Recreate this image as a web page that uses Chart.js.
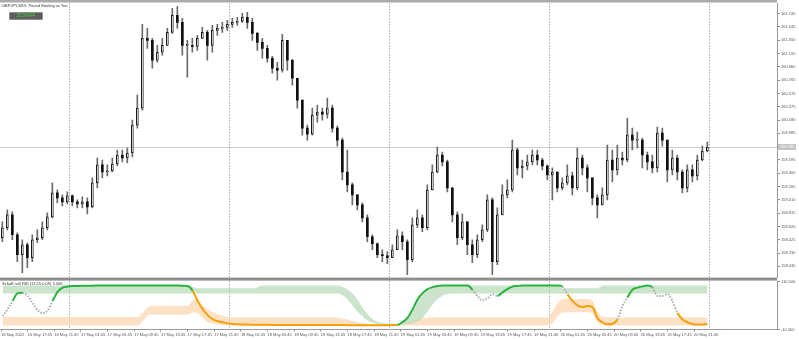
<!DOCTYPE html>
<html>
<head>
<meta charset="utf-8">
<script src="https://cdn.jsdelivr.net/npm/chart.js@4.4.1/dist/chart.umd.min.js"></script>
<style>
  html, body { margin: 0; padding: 0; background: #fff; }
  #wrap { position: relative; width: 799px; height: 339px; overflow: hidden; font-family: "Liberation Sans", Arial, sans-serif; }
  #main { position: absolute; left: 0; top: 0; }
  #sub { position: absolute; left: 0; top: 278px; }
  .title { position: absolute; left: 2px; top: 3.5px; font-size: 4px; line-height: 4px; color: #333; white-space: nowrap; }
  .btn { position: absolute; left: 9px; top: 12px; width: 34px; height: 7.5px; box-sizing: border-box; background: #5d5d5d; border: 1px solid #8c8c8c; border-radius: 1px; color: #3bd43b; font-size: 4.7px; line-height: 5.5px; text-align: center; }
  .subtitle { position: absolute; left: 2px; top: 281.5px; font-size: 4px; line-height: 4px; color: #333; white-space: nowrap; }
</style>
</head>
<body>
<div id="wrap">
  <canvas id="main" width="799" height="281"></canvas>
  <canvas id="sub" width="799" height="61"></canvas>
  <div class="title">GBPJPY,M15: Pound Sterling vs Yen</div>
  <div class="btn">SCHAFF</div>
  <div class="subtitle">Schaff rsi3 RSI (13,55,0.09) 3.406</div>
</div>
<script>
// --- data (45-min candles, x in M15 bar units) ---
const firstOpen = 158.454;
const closes = [158.601,158.791,158.498,158.206,158.352,158.162,158.425,158.454,158.601,158.761,
  159.112,159.039,158.981,159.068,158.981,158.952,158.981,158.908,159.259,159.522,
  159.419,159.434,159.536,159.668,159.624,159.697,160.106,160.355,161.378,161.349,
  161.057,161.174,161.276,161.466,161.715,161.612,161.276,161.276,161.261,161.378,
  161.466,161.276,161.495,161.525,161.539,161.583,161.612,161.627,161.685,161.612,
  161.452,161.320,161.232,161.086,160.940,160.911,161.349,161.057,160.794,160.472,
  160.063,159.975,160.253,160.297,160.267,160.355,160.063,159.887,159.419,159.229,
  159.083,158.937,158.747,158.469,158.367,158.206,158.191,158.162,158.279,158.484,
  158.396,158.133,158.644,158.747,158.601,159.156,159.419,159.668,159.566,159.185,
  158.791,158.454,158.688,158.352,158.206,158.425,158.571,159.010,158.104,158.791,
  159.083,159.156,159.741,159.478,159.507,159.566,159.668,159.595,159.507,159.375,
  159.419,159.185,159.259,159.361,159.185,159.624,159.478,159.332,159.039,158.937,
  159.083,159.595,159.449,159.624,159.595,159.960,159.887,159.887,159.668,159.566,
  159.478,159.990,159.887,159.449,159.624,159.419,159.185,159.449,159.361,159.595,
  159.726,159.785];
const highs = [158.688,158.864,158.835,158.528,158.425,158.381,158.498,158.571,158.688,158.820,
  159.259,159.156,159.083,159.127,159.083,159.010,159.054,159.039,159.332,159.624,
  159.595,159.522,159.624,159.741,159.741,159.770,160.180,160.545,161.583,161.525,
  161.378,161.276,161.378,161.525,161.817,161.846,161.671,161.349,161.378,161.422,
  161.539,161.495,161.568,161.583,161.612,161.642,161.671,161.685,161.744,161.759,
  161.671,161.466,161.378,161.276,161.115,161.028,161.437,161.349,161.070,160.794,
  160.472,160.106,160.355,160.399,160.355,160.501,160.399,160.092,159.916,159.741,
  159.259,159.083,158.966,158.791,158.498,158.381,158.279,158.250,158.352,158.571,
  158.542,158.425,158.747,158.864,158.791,159.229,159.522,159.785,159.712,159.595,
  159.185,158.835,158.805,158.688,158.425,158.498,158.644,159.083,159.039,158.893,
  159.229,159.302,159.887,159.770,159.595,159.668,159.741,159.741,159.624,159.522,
  159.478,159.419,159.332,159.522,159.419,159.770,159.668,159.522,159.332,159.083,
  159.185,159.814,159.741,159.814,159.712,160.209,160.063,160.004,159.916,159.712,
  159.668,160.077,160.063,159.887,159.741,159.668,159.449,159.522,159.522,159.668,
  159.799,159.858];
const lows = [158.396,158.571,158.425,158.104,157.943,158.016,158.104,158.381,158.425,158.571,
  158.747,158.966,158.922,158.952,158.922,158.893,158.893,158.805,158.893,159.185,
  159.332,159.361,159.419,159.507,159.566,159.551,159.639,160.063,160.326,161.232,
  160.940,161.028,161.130,161.276,161.452,161.525,161.130,160.808,161.174,161.203,
  161.378,161.057,161.174,161.422,161.466,161.495,161.539,161.568,161.612,161.525,
  161.349,161.203,161.086,161.028,160.867,160.764,160.881,160.911,160.691,160.355,
  159.960,159.887,159.960,160.150,160.180,160.209,160.004,159.799,159.302,159.127,
  158.937,158.864,158.688,158.396,158.279,158.162,158.104,158.074,158.162,158.279,
  158.279,157.913,158.104,158.601,158.542,158.571,159.156,159.405,159.507,159.127,
  158.688,158.352,158.425,158.206,158.089,158.162,158.396,158.542,157.913,158.060,
  158.791,159.039,159.127,159.375,159.332,159.449,159.522,159.522,159.449,159.302,
  159.010,159.127,159.156,159.229,159.083,159.156,159.375,159.127,158.937,158.747,
  158.937,159.010,159.273,159.375,159.522,159.566,159.741,159.770,159.478,159.449,
  159.405,159.419,159.799,159.273,159.375,159.302,159.112,159.127,159.273,159.302,
  159.580,159.712];

// Schaff trend cycle and its two zones
const stcVals = [23,41,61.5,81,82,74,56,38,31,38,
  61.5,84.6,95,97.4,98.7,99.2,99.5,99.6,99.8,99.9,
  100,100,99.9,100,100,100,99.9,100,100,100,
  100,99.9,100,100,100,100,99.8,98.8,87,61.5,
  41,25.6,15.4,10.3,7.7,5.1,3.3,2.5,2,1.8,
  1.6,1.4,1.3,1.2,1.1,1,1,0.9,0.9,0.8,
  0.8,0.8,0.7,0.7,0.7,0.6,0.6,0.6,0.6,0.5,
  0.5,0.5,0.5,0.5,0.5,0.5,0.5,0.5,0.6,1,
  8,18.7,40,65,81,91,96,99,100,100,
  100,100,100,100,89.7,74,62.8,68,78,74,
  83,91,97.4,99,100,100,100,100,100,100,
  100,100,97.4,78,61.5,50,46,48.7,46,18.7,
  7.7,2.6,3.8,14.6,48.7,70,89.7,94.9,98,100,
  95.6,74,74,78.7,61.5,31.6,15.4,7.7,3.4,1.8,
  1.8,3.4];
const greenTop = [100,100,100,100,100,100,100,100,100,100,
  100,100,100,100,100,100,100,100,100,100,
  100,100,100,100,100,100,100,100,100,100,
  100,100,100,100,100,100,100,100,97,93,
  93,93,93,93,93,93,93,93,93,93,
  93,96,100,100,100,100,100,100,100,100,
  100,100,100,100,100,100,100,100,97,90,
  80,65,45,28,16,9,6,4.5,4,4,
  8,20,40,65,81,91,96,99,100,100,
  100,100,100,100,100,100,100,100,100,100,
  100,100,100,100,100,100,100,100,100,100,
  100,100,93,93,93,93,93,93,93,93,
  100,100,100,100,100,100,100,100,100,100,
  100,100,100,100,100,100,100,100,100,100,
  100,100];
const greenLow = [80,80,80,80,80,80,80,80,80,80,
  80,80,80,80,80,80,80,80,80,80,
  80,80,80,80,80,80,80,80,80,80,
  80,80,80,80,80,80,80,80,80,80,
  80,80,80,80,80,80,80,80,80,80,
  80,80,80,80,80,80,80,80,80,80,
  80,80,80,80,80,80,80,80,76,65,
  50,35,22,12,7,4,3,2.5,2.5,2.5,
  2.5,3,5,10,18,35,52,66,74,79,
  80,80,80,80,80,80,80,80,80,80,
  80,80,80,80,80,80,80,80,80,80,
  80,80,80,80,80,80,80,80,80,80,
  80,80,80,80,80,80,80,80,80,80,
  80,80,80,80,80,80,80,80,80,80,
  80,80];
const orangeTop = [21,21,21,21,21,21,21,21,21,21,
  21,21,21,21,21,21,21,21,21,21,
  21,21,21,21,21,21,21,21,30,45,
  49,49,49,49,49,49,49,49,62,67,
  50,40,33,28,24,21,20,20,20,20,
  20,20,20,20,20,20,20,20,20,20,
  20,20,20,20,20,20,20,19,17,14,
  11,8,6,4,3,2.5,2.5,2.5,2.5,2.5,
  2.5,6,10,14,17,19,20,20,20,20,
  20,20,20,20,20,20,20,20,20,20,
  20,20,20,20,20,20,20,20,20,20,
  35,55,66,67,66,66,66,66,62,35,
  22,20,20,20,20,20,20,20,20,20,
  20,20,20,20,20,20,20,20,20,20,
  20,20];
const orangeLow = [-0.5,-0.5,-0.5,-0.5,-0.5,-0.5,-0.5,-0.5,-0.5,-0.5,
  -0.5,-0.5,-0.5,-0.5,-0.5,-0.5,-0.5,-0.5,-0.5,-0.5,
  -0.5,-0.5,-0.5,-0.5,-0.5,-0.5,-0.5,-0.5,10,25,
  27,27,27,27,27,27,27,27,32,30,
  20,8,5,3,1,0,-0.5,-0.5,-0.5,-0.5,
  -0.5,-0.5,-0.5,-0.5,-0.5,-0.5,-0.5,-0.5,-0.5,-0.5,
  -0.5,-0.5,-0.5,-0.5,-0.5,-0.5,-0.5,-0.5,-0.5,-0.5,
  -0.5,-0.5,-0.5,-0.5,-0.5,-0.5,-0.5,-0.5,-0.5,-0.5,
  -0.5,-0.5,-0.5,-0.5,-0.5,-0.5,-0.5,-0.5,-0.5,-0.5,
  -0.5,-0.5,-0.5,-0.5,-0.5,-0.5,-0.5,-0.5,-0.5,-0.5,
  -0.5,-0.5,-0.5,-0.5,-0.5,-0.5,-0.5,-0.5,-0.5,-0.5,
  5,22,32,33,33,33,33,33,30,8,
  0,-0.5,-0.5,-0.5,-0.5,-0.5,-0.5,-0.5,-0.5,-0.5,
  -0.5,-0.5,-0.5,-0.5,-0.5,-0.5,-0.5,-0.5,-0.5,-0.5,
  -0.5,-0.5];

const priceTicks = [158.035,158.230,158.425,158.620,158.815,159.010,159.205,159.400,159.595,159.790,
  159.985,160.180,160.375,160.570,160.765,160.960,161.155,161.350,161.545,161.740];
const stcTicks = [110.5, -10.5];
const timeLabels = ["16 May 2022","16 May 17:45","16 May 21:45","17 May 01:45","17 May 05:45","17 May 09:45",
  "17 May 13:45","17 May 17:45","17 May 21:45","18 May 01:45","18 May 05:45","18 May 09:45","18 May 13:45",
  "18 May 17:45","18 May 21:45","19 May 01:45","19 May 05:45","19 May 09:45","19 May 13:45","19 May 17:45",
  "19 May 21:45","20 May 01:45","20 May 05:45","20 May 09:45","20 May 13:45","20 May 17:45","20 May 21:45"];
const timeBars = [0,16,32,48,64,80,96,112,128,144,160,176,192,208,224,240,256,272,288,304,320,336,352,368,384,400,416];
const dayBreaks = [41,137,233,329,425];

// --- derived ---
const opens = closes.map((c, i) => i === 0 ? firstOpen : closes[i - 1]);
const candleBars = closes.map((c, i) => 3 * i + 1);
const xMin = -0.4, xMax = 465.8;
const FONT = { family: 'Liberation Sans', size: 4 };
const GREEN = '#27b33c', ORANGE = '#f5a007', GRAY = '#ababab';

function stcColor(i) {
  if (stcVals[i] >= greenLow[i]) return GREEN;
  if (stcVals[i] <= orangeTop[i]) return ORANGE;
  return GRAY;
}

// separators, frame lines and bid line
const panelFrame = {
  id: 'panelFrame',
  beforeDatasetsDraw(chart, args, opts) {
    const { ctx, chartArea: a, scales } = chart;
    ctx.save();
    if (opts.bid) {
      const y = Math.round(scales.y.getPixelForValue(closes[closes.length - 1])) + 0.5;
      ctx.strokeStyle = '#cfcfcf';
      ctx.lineWidth = 1;
      ctx.beginPath(); ctx.moveTo(a.left, y); ctx.lineTo(a.right, y); ctx.stroke();
    }
    ctx.strokeStyle = '#7c7c7c';
    ctx.lineWidth = 1;
    ctx.setLineDash([1, 2]);
    dayBreaks.forEach(b => {
      const x = Math.round(scales.x.getPixelForValue(b)) + 0.5;
      ctx.beginPath(); ctx.moveTo(x, a.top); ctx.lineTo(x, a.bottom); ctx.stroke();
    });
    ctx.restore();
  },
  afterDraw(chart, args, opts) {
    const { ctx, chartArea: a, scales } = chart;
    ctx.save();
    if (opts.top) {
      ctx.fillStyle = '#ababab';
      ctx.fillRect(0, 0, a.right, 2.5);
    }
    if (opts.bottom) {
      ctx.fillStyle = '#8e8e8e';
      ctx.fillRect(0, a.bottom, a.right, 3);
    }
    if (opts.bid) {
      const last = closes[closes.length - 1];
      const y = scales.y.getPixelForValue(last);
      ctx.fillStyle = '#c3c3c3';
      ctx.fillRect(a.right + 1, y - 3, 18, 6);
      ctx.fillStyle = '#ffffff';
      ctx.font = '4px "Liberation Sans"';
      ctx.textBaseline = 'middle';
      ctx.fillText(last.toFixed(3), a.right + 3, y);
    }
    ctx.restore();
  }
};

// --- price panel ---
new Chart(document.getElementById('main'), {
  type: 'bar',
  data: {
    datasets: [
      {
        label: 'body',
        data: candleBars.map((b, i) => ({ x: b, y: [opens[i], closes[i]] })),
        backgroundColor: c => closes[c.dataIndex] >= opens[c.dataIndex] ? '#ffffff' : '#111111',
        borderColor: '#1a1a1a',
        borderWidth: c => closes[c.dataIndex] >= opens[c.dataIndex] ? 1 : 0,
        borderSkipped: false,
        barThickness: 2,
        minBarLength: 1,
        grouped: false,
        order: 0
      },
      {
        label: 'wick',
        data: candleBars.map((b, i) => ({ x: b, y: [lows[i], highs[i]] })),
        backgroundColor: '#6a6a6a',
        barThickness: 1,
        grouped: false,
        order: 1
      }
    ]
  },
  options: {
    responsive: false,
    animation: false,
    layout: { padding: { top: 3, bottom: 3, left: 0, right: 0 } },
    plugins: {
      legend: { display: false },
      tooltip: { enabled: false },
      panelFrame: { top: true, bottom: true, bid: true }
    },
    scales: {
      x: { type: 'linear', min: xMin, max: xMax, offset: false, display: false },
      y: {
        position: 'right',
        min: 157.870,
        max: 161.891,
        afterBuildTicks: s => { s.ticks = priceTicks.map(v => ({ value: v })); },
        afterFit: s => { s.width = 22; },
        grid: { drawOnChartArea: false, tickLength: 3, color: '#8c8c8c' },
        border: { color: '#9a9a9a' },
        ticks: { autoSkip: false, font: FONT, color: '#555', padding: 1, callback: v => Number(v).toFixed(3) }
      }
    }
  },
  plugins: [panelFrame]
});

// --- Schaff panel ---
const pts = arr => arr.map((v, i) => ({ x: candleBars[i], y: v }));
const band = { pointRadius: 0, borderWidth: 0, cubicInterpolationMode: 'monotone' };

new Chart(document.getElementById('sub'), {
  type: 'line',
  data: {
    datasets: [
      {
        label: 'STC',
        data: pts(stcVals),
        borderWidth: 2,
        pointRadius: 0,
        cubicInterpolationMode: 'monotone',
        borderColor: GREEN,
        segment: {
          borderColor: c => stcColor(c.p1DataIndex),
          borderDash: c => stcColor(c.p1DataIndex) === GRAY ? [1.5, 1.5] : undefined
        },
        order: 0
      },
      Object.assign({ label: 'green top', data: pts(greenTop), fill: '+1', backgroundColor: 'rgba(176, 214, 176, 0.65)', order: 2 }, band),
      Object.assign({ label: 'green low', data: pts(greenLow), fill: false, order: 3 }, band),
      Object.assign({ label: 'orange top', data: pts(orangeTop), fill: '+1', backgroundColor: 'rgba(253, 214, 176, 0.75)', order: 4 }, band),
      Object.assign({ label: 'orange low', data: pts(orangeLow), fill: false, order: 5 }, band)
    ]
  },
  options: {
    responsive: false,
    animation: false,
    layout: { padding: { top: 3, bottom: 0, left: 0, right: 0 } },
    plugins: {
      legend: { display: false },
      tooltip: { enabled: false },
      panelFrame: {}
    },
    scales: {
      x: {
        type: 'linear',
        min: xMin,
        max: xMax,
        afterBuildTicks: s => { s.ticks = timeBars.map(v => ({ value: v })); },
        afterFit: s => { s.height = 9.5; },
        grid: { drawOnChartArea: false, tickLength: 2, color: '#8c8c8c' },
        border: { color: '#9a9a9a' },
        ticks: { autoSkip: false, maxRotation: 0, align: 'start', font: FONT, color: '#555', padding: 1,
                 callback: (v, i) => timeLabels[i] }
      },
      y: {
        position: 'right',
        min: -10.5,
        max: 110.5,
        afterBuildTicks: s => { s.ticks = stcTicks.map(v => ({ value: v })); },
        afterFit: s => { s.width = 22; },
        grid: { drawOnChartArea: false, tickLength: 3, color: '#8c8c8c' },
        border: { color: '#9a9a9a' },
        ticks: { autoSkip: false, font: FONT, color: '#555', padding: 1, callback: v => Number(v).toFixed(3) }
      }
    }
  },
  plugins: [panelFrame]
});
</script>
</body>
</html>
